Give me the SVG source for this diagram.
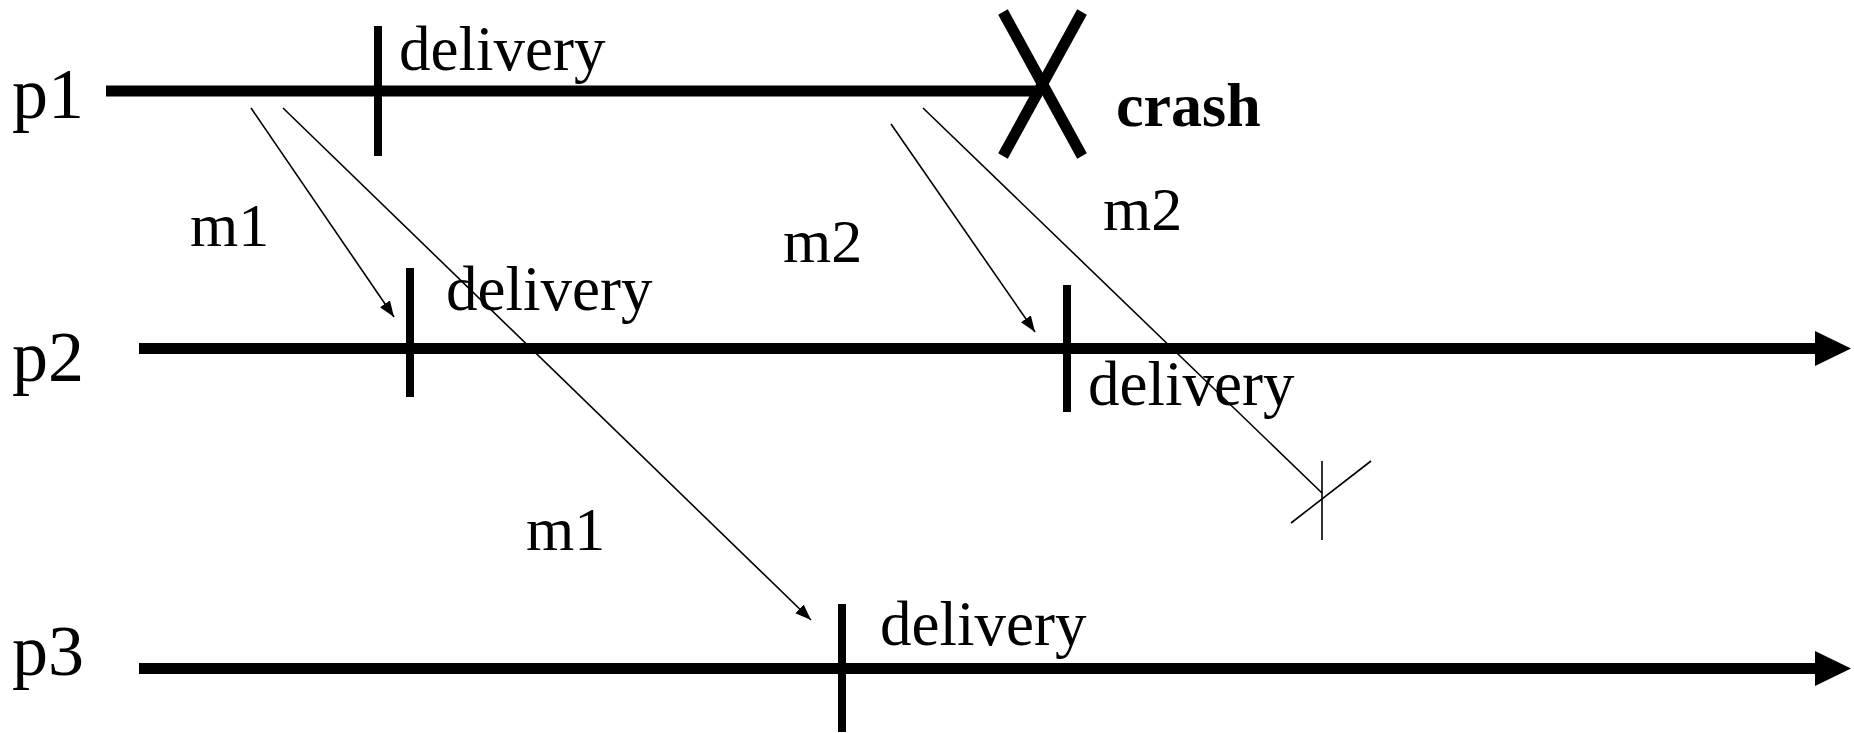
<svg xmlns="http://www.w3.org/2000/svg" width="1854" height="733" viewBox="0 0 1854 733">
<style>
text{font-family:"Liberation Serif","Times New Roman",serif;fill:#000}
.pl{font-size:72px}
.dl{font-size:63px}
.ml{font-size:62px}
.cr{font-size:62px;font-weight:bold}
.axis{stroke:#000;stroke-width:11;fill:none}
.tick{stroke:#000;stroke-width:8;fill:none}
.msg{stroke:#000;stroke-width:1.6;fill:none}
</style>
<defs>
<marker id="ah" markerUnits="userSpaceOnUse" markerWidth="18" markerHeight="14" refX="16" refY="6" orient="auto">
<path d="M0,0 L16,6 L0,12 Z" fill="#000"/>
</marker>
</defs>
<rect width="1854" height="733" fill="#fff"/>
<g id="p1">
<text class="pl" x="12" y="118">p1</text>
<line class="axis" x1="106" y1="91" x2="1041" y2="91"/>
<line class="tick" x1="378" y1="26" x2="378" y2="156"/>
<text class="dl" x="399" y="70">delivery</text>
<line class="axis" x1="1003" y1="12" x2="1082" y2="156"/>
<line class="axis" x1="1082" y1="12" x2="1003" y2="156"/>
<text class="cr" x="1116" y="126">crash</text>
</g>
<g id="p2">
<text class="pl" x="12" y="381">p2</text>
<line class="axis" x1="139" y1="348.5" x2="1817" y2="348.5"/>
<path d="M1815,331 L1851,348.5 L1815,366 Z" fill="#000"/>
<line class="tick" x1="410" y1="268" x2="410" y2="397"/>
<text class="dl" x="446" y="310">delivery</text>
<line class="tick" x1="1067" y1="285" x2="1067" y2="412"/>
<text class="dl" x="1088" y="405">delivery</text>
</g>
<g id="p3">
<text class="pl" x="12" y="675">p3</text>
<line class="axis" x1="139" y1="668.5" x2="1817" y2="668.5"/>
<path d="M1815,651 L1851,668.5 L1815,686 Z" fill="#000"/>
<line class="tick" x1="842" y1="604" x2="842" y2="732"/>
<text class="dl" x="880" y="645">delivery</text>
</g>
<g id="connectors">
<line class="msg" x1="251" y1="108" x2="394" y2="317" marker-end="url(#ah)"/>
<line class="msg" x1="283" y1="108" x2="811" y2="620" marker-end="url(#ah)"/>
<line class="msg" x1="891" y1="124" x2="1035" y2="332" marker-end="url(#ah)"/>
<line class="msg" x1="923" y1="108" x2="1322" y2="493"/>
<line class="msg" x1="1322" y1="461" x2="1322" y2="540"/>
<line class="msg" x1="1291" y1="523" x2="1371" y2="461"/>
</g>
<g id="labels">
<text class="ml" x="190" y="246">m1</text>
<text class="ml" x="526" y="550">m1</text>
<text class="ml" x="783" y="262">m2</text>
<text class="ml" x="1103" y="230">m2</text>
</g>
</svg>
